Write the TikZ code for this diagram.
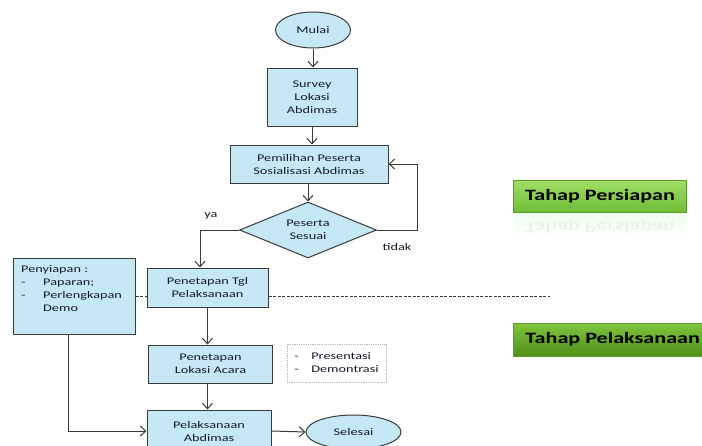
\documentclass[tikz,border=0pt]{standalone}
\usepackage{fontspec}
\setmainfont{Carlito}[FakeStretch=1.4]
\usetikzlibrary{shapes.geometric,arrows.meta,calc}
\definecolor{boxfill}{HTML}{C6E8F4}
\definecolor{edge}{HTML}{3A3A3A}
\definecolor{txt}{HTML}{141A2C}
\definecolor{gAtop}{HTML}{A2DF68}
\definecolor{gAbot}{HTML}{6EBD36}
\definecolor{gBtop}{HTML}{80C63E}
\definecolor{gBbot}{HTML}{4E8F1A}
\definecolor{gedge}{HTML}{5A9A2A}
\begin{document}
\begin{tikzpicture}[x=1pt,y=-1pt,
  font=\fontsize{10.2}{13}\selectfont,
  box/.style={draw=edge, line width=1pt, fill=boxfill, text=txt, align=center, inner sep=0pt},
  oval/.style={ellipse, draw=edge, line width=1pt, fill=boxfill, text=txt, inner sep=0pt},
  dia/.style={diamond, aspect=2.45, draw=edge, line width=1pt, fill=boxfill, text=txt, align=center, inner sep=0pt},
  arr/.style={draw=edge, line width=1pt, -{Straight Barb[length=5.5pt,width=10pt]}},
  dashline/.style={draw=edge, line width=1pt, dash pattern=on 3pt off 1.5pt},
  lbl/.style={text=txt, inner sep=0pt},
  tahap/.style={draw=gedge, line width=0.8pt, font=\fontsize{15.8}{18}\selectfont\bfseries, text=black, inner sep=0pt}
]
\useasboundingbox (0,0) rectangle (702,445);
\clip (0,0) rectangle (702,445);

% main flow
\node[oval, minimum width=75pt, minimum height=36pt] (mulai) at (313,30) {Mulai};
\node[box, minimum width=90pt, minimum height=58pt] (survey) at (312,97) {Survey\\Lokasi\\Abdimas};
\node[box, minimum width=158pt, minimum height=38pt] (pilih) at (309,164) {Pemilihan Peserta\\Sosialisasi Abdimas};
\node[dia, minimum width=137pt, minimum height=56pt] (sesuai) at (308,230) {Peserta\\Sesuai};
\node[box, minimum width=121pt, minimum height=39pt] (tgl) at (207.5,287.5) {Penetapan Tgl\\Pelaksanaan};
\node[box, minimum width=122pt, minimum height=76pt] (siap) at (74,296) {};
\node[lbl, anchor=north west, align=left] (siaptxt) at (21,265) {Penyiapan :\\\makebox[22pt][l]{-}Paparan;\\\makebox[22pt][l]{-}Perlengkapan\\\makebox[22pt][l]{}Demo};
\node[box, minimum width=124pt, minimum height=38pt] (lokasi) at (210.5,364) {Penetapan\\Lokasi Acara};
\node[draw=gray!55, densely dotted, line width=0.8pt, text=txt, align=left, minimum width=99pt, minimum height=38pt, inner sep=0pt] (demo) at (336.5,363) {\makebox[17pt][l]{-}Presentasi\\\makebox[17pt][l]{-}Demontrasi};
\node[box, minimum width=124pt, minimum height=42pt] (laksana) at (209,431) {Pelaksanaan\\Abdimas};
\node[oval, minimum width=95pt, minimum height=34pt] (selesai) at (353.5,432) {Selesai};

% labels
\node[lbl] (ya) at (211,216) {ya};
\node[lbl] (tidak) at (397,247) {tidak};

% helper coordinates
\coordinate (yaX) at (200,0);
\coordinate (fbX) at (417,0);
\coordinate (sX) at (68,0);
\coordinate (dY) at (0,296);
\coordinate (dEnd) at (550,296);

% connectors
\draw[arr] (mulai.south) -- (mulai.south |- survey.north);
\draw[arr] (survey.south) -- (survey.south |- pilih.north);
\draw[arr] (sesuai.north |- pilih.south) -- (sesuai.north);
\draw[arr] (sesuai.west) -| (yaX |- tgl.north);
\draw[arr] (sesuai.east) -| (fbX |- pilih.east) -- (pilih.east);
\draw[arr] (tgl.south) -- (tgl.south |- lokasi.north);
\draw[arr] (tgl.south |- lokasi.south) -- (tgl.south |- laksana.north);
\draw[arr] (sX |- siap.south) |- (laksana.west);
\draw[arr] (laksana.east) -- (selesai.west);
\draw[dashline] (siap.east |- dY) -- (tgl.west |- dY);
\draw[dashline] (tgl.east |- dY) -- (dEnd);

% stage labels
\node[tahap, top color=gAtop, bottom color=gAbot, minimum width=173pt, minimum height=32pt] (persiapan) at (600,196) {Tahap Persiapan};
\shade[top color=green!7, bottom color=white] (514,213) rectangle (686,236);
\node[opacity=0.05, font=\fontsize{15.8}{18}\selectfont\bfseries] (refl) at (600,227) {\scalebox{1}[-1]{Tahap Persiapan}};
\node[tahap, top color=gBtop, bottom color=gBbot, anchor=west, minimum height=33pt, inner xsep=12pt] (pelaks) at (513,339.5) {Tahap Pelaksanaan};
\end{tikzpicture}
\end{document}
